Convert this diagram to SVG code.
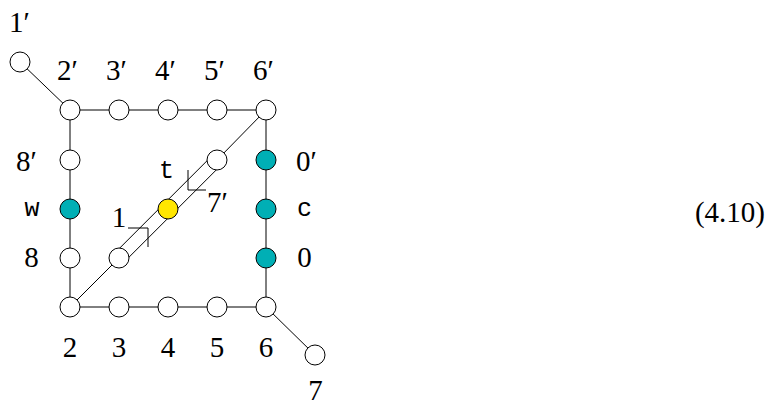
<svg xmlns="http://www.w3.org/2000/svg" width="770" height="405" viewBox="0 0 770 405">
<style>
  .n { fill: #ffffff; stroke: #000000; stroke-width: 1; }
  .teal { fill: #00AFB5; }
  .yel { fill: #FFE600; }
  .e { stroke: #000000; stroke-width: 1; fill: none; }
  .lb { font-family: 'Liberation Serif', 'Times New Roman', serif; font-size: 29px; fill: #000000; }
  .tt { font-family: 'Liberation Mono', 'DejaVu Sans Mono', monospace; font-size: 25px; fill: #000000; }
  .m { text-anchor: middle; }
</style>
<rect x="0" y="0" width="770" height="405" fill="#ffffff"/>
<g id="connectors">
  <line class="e" x1="20" y1="62" x2="70" y2="110"/>
  <line class="e" x1="70" y1="110" x2="266" y2="110"/>
  <line class="e" x1="70" y1="307" x2="266" y2="307"/>
  <line class="e" x1="70" y1="110" x2="70" y2="307"/>
  <line class="e" x1="266" y1="110" x2="266" y2="307"/>
  <line class="e" x1="266" y1="307" x2="315" y2="355"/>
  <line class="e" x1="70" y1="307" x2="119" y2="258"/>
  <line class="e" x1="114.4" y1="253.4" x2="212.4" y2="155.4"/>
  <line class="e" x1="123.6" y1="262.6" x2="221.6" y2="164.6"/>
  <line class="e" x1="217" y1="160" x2="266" y2="110"/>
  <polyline class="e" points="128,228 148,228 148,247"/>
  <polyline class="e" points="188,170 188,190 206,190"/>
</g>
<g id="n1p"><circle class="n" cx="20" cy="62" r="10"/><text class="lb" x="9" y="32">1′</text></g>
<g id="n2p"><circle class="n" cx="70" cy="110" r="10"/><text class="lb" x="57" y="80">2′</text></g>
<g id="n3p"><circle class="n" cx="119" cy="110" r="10"/><text class="lb" x="106" y="80">3′</text></g>
<g id="n4p"><circle class="n" cx="168" cy="110" r="10"/><text class="lb" x="155" y="80">4′</text></g>
<g id="n5p"><circle class="n" cx="217" cy="110" r="10"/><text class="lb" x="204" y="80">5′</text></g>
<g id="n6p"><circle class="n" cx="266" cy="110" r="10"/><text class="lb" x="253" y="80">6′</text></g>
<g id="n8p"><circle class="n" cx="70" cy="160" r="10"/><text class="lb" x="16" y="171">8′</text></g>
<g id="nw"><circle class="n teal" cx="70" cy="209" r="10"/><text class="tt m" x="32" y="216">w</text></g>
<g id="n8"><circle class="n" cx="70" cy="258" r="10"/><text class="lb m" x="31.5" y="267">8</text></g>
<g id="n0p"><circle class="n teal" cx="266" cy="160" r="10"/><text class="lb" x="296" y="171">0′</text></g>
<g id="nc"><circle class="n teal" cx="266" cy="209" r="10"/><text class="tt m" x="304.5" y="216">c</text></g>
<g id="n0"><circle class="n teal" cx="266" cy="258" r="10"/><text class="lb m" x="304.5" y="267">0</text></g>
<g id="n1"><circle class="n" cx="119" cy="258" r="10"/><text class="lb m" x="119" y="227">1</text></g>
<g id="nt"><circle class="n yel" cx="168" cy="209" r="10"/><text class="tt m" x="166.5" y="178">t</text></g>
<g id="n7p"><circle class="n" cx="217" cy="160" r="10"/><text class="lb" x="207" y="212">7′</text></g>
<g id="n2"><circle class="n" cx="70" cy="307" r="10"/><text class="lb m" x="70" y="357">2</text></g>
<g id="n3"><circle class="n" cx="119" cy="307" r="10"/><text class="lb m" x="119" y="357">3</text></g>
<g id="n4"><circle class="n" cx="168" cy="307" r="10"/><text class="lb m" x="168" y="357">4</text></g>
<g id="n5"><circle class="n" cx="217" cy="307" r="10"/><text class="lb m" x="217" y="357">5</text></g>
<g id="n6"><circle class="n" cx="266" cy="307" r="10"/><text class="lb m" x="266" y="357">6</text></g>
<g id="n7"><circle class="n" cx="315" cy="355" r="10"/><text class="lb m" x="315.5" y="400">7</text></g>
<text class="lb" x="765" y="222" text-anchor="end">(4.10)</text>
</svg>
